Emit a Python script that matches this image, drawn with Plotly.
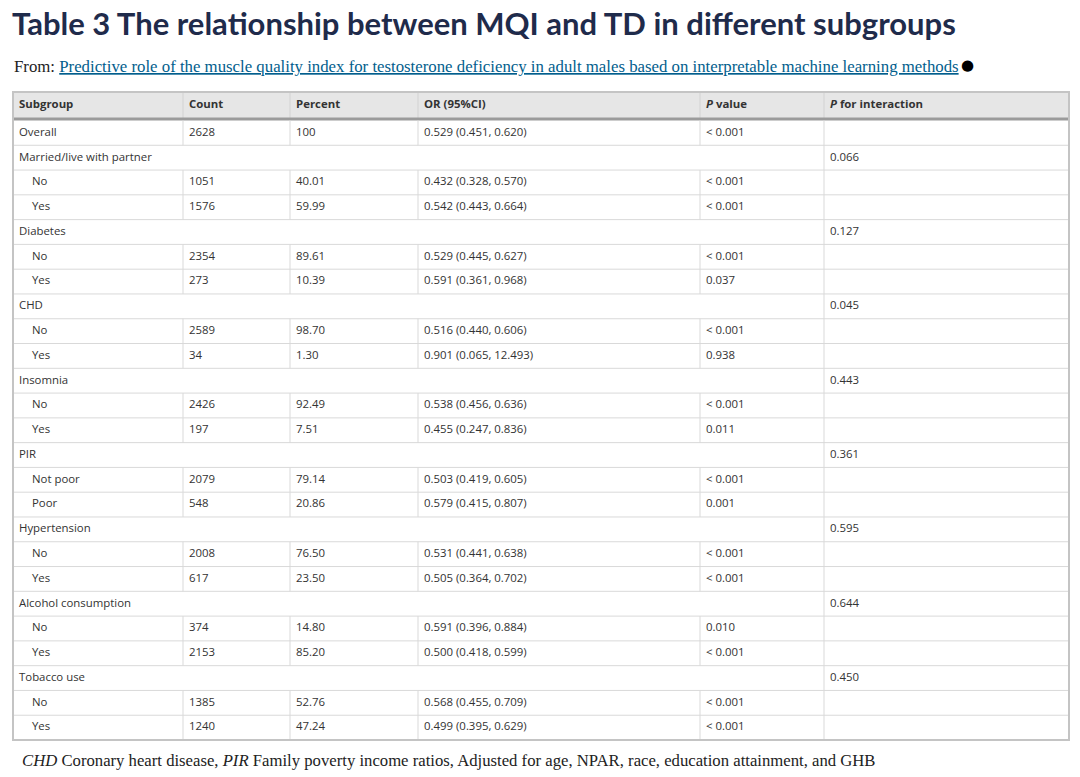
import plotly.graph_objects as go

title = "Table 3 The relationship between MQI and TD in different subgroups"
source = "Predictive role of the muscle quality index for testosterone deficiency in adult males based on interpretable machine learning methods"
footnote = ("<i>CHD</i> Coronary heart disease, <i>PIR</i> Family poverty income ratios, "
            "Adjusted for age, NPAR, race, education attainment, and GHB")

headers = ["Subgroup", "Count", "Percent", "OR (95%CI)", "<i>P</i> value", "<i>P</i> for interaction"]

subgroup = ["Overall", "Married/live with partner", "No", "Yes", "Diabetes", "No", "Yes",
            "CHD", "No", "Yes", "Insomnia", "No", "Yes", "PIR", "Not poor", "Poor",
            "Hypertension", "No", "Yes", "Alcohol consumption", "No", "Yes",
            "Tobacco use", "No", "Yes"]
indent = [0, 0, 1, 1, 0, 1, 1, 0, 1, 1, 0, 1, 1, 0, 1, 1, 0, 1, 1, 0, 1, 1, 0, 1, 1]
count = ["2628", "", "1051", "1576", "", "2354", "273", "", "2589", "34", "", "2426", "197",
         "", "2079", "548", "", "2008", "617", "", "374", "2153", "", "1385", "1240"]
percent = ["100", "", "40.01", "59.99", "", "89.61", "10.39", "", "98.70", "1.30", "", "92.49", "7.51",
           "", "79.14", "20.86", "", "76.50", "23.50", "", "14.80", "85.20", "", "52.76", "47.24"]
or_ci = ["0.529 (0.451, 0.620)", "", "0.432 (0.328, 0.570)", "0.542 (0.443, 0.664)", "",
         "0.529 (0.445, 0.627)", "0.591 (0.361, 0.968)", "", "0.516 (0.440, 0.606)",
         "0.901 (0.065, 12.493)", "", "0.538 (0.456, 0.636)", "0.455 (0.247, 0.836)", "",
         "0.503 (0.419, 0.605)", "0.579 (0.415, 0.807)", "", "0.531 (0.441, 0.638)",
         "0.505 (0.364, 0.702)", "", "0.591 (0.396, 0.884)", "0.500 (0.418, 0.599)", "",
         "0.568 (0.455, 0.709)", "0.499 (0.395, 0.629)"]
p_value = ["< 0.001", "", "< 0.001", "< 0.001", "", "< 0.001", "0.037", "", "< 0.001", "0.938",
           "", "< 0.001", "0.011", "", "< 0.001", "0.001", "", "< 0.001", "< 0.001", "",
           "0.010", "< 0.001", "", "< 0.001", "< 0.001"]
p_inter = ["", "0.066", "", "", "0.127", "", "", "0.045", "", "", "0.443", "", "", "0.361",
           "", "", "0.595", "", "", "0.644", "", "", "0.450", "", ""]

# axes are laid out in page pixels (body margin is removed in the page, see write_html below)
W, H = 1080, 777
col_edges = [13, 183, 290, 418, 700, 824, 1069]
pad = 6
head_top, head_bot = 92, 118
body_top, body_bot = 120.5, 740
n = len(subgroup)
row_h = (body_bot - body_top) / n
row_y = [body_top + (i + 0.5) * row_h for i in range(n)]
is_group = [c == "" for c in count]

text_color = "#333333"
grid = "#d9d9d9"
tfont = dict(family="Open Sans", size=11.4, color=text_color)

fig = go.Figure()

columns = [subgroup, count, percent, or_ci, p_value, p_inter]
for j, col in enumerate(columns):
    if j == 0:
        xs = [col_edges[0] + pad + (13 if ind else 0) for ind in indent]
    else:
        xs = [col_edges[j] + pad] * n
    fig.add_trace(go.Scatter(x=xs, y=row_y, text=col, mode="text",
                             textposition="middle right", textfont=tfont,
                             hoverinfo="skip", showlegend=False))

# header labels
fig.add_trace(go.Scatter(x=[e + pad for e in col_edges[:-1]],
                         y=[(head_top + head_bot) / 2] * len(headers),
                         text=["<b>%s</b>" % h for h in headers], mode="text",
                         textposition="middle right", textfont=tfont,
                         hoverinfo="skip", showlegend=False))

shapes = []
# header background and its thick bottom rule
shapes.append(dict(type="rect", x0=col_edges[0], x1=col_edges[-1], y0=head_top, y1=head_bot,
                   fillcolor="#e6e6e6", line_width=0, layer="below"))
for e in col_edges[1:-1]:
    shapes.append(dict(type="line", x0=e, x1=e, y0=head_top, y1=head_bot,
                       line=dict(color="#d2d2d2", width=1)))
shapes.append(dict(type="line", x0=col_edges[0], x1=col_edges[-1], y0=head_bot + 1, y1=head_bot + 1,
                   line=dict(color="#9b9b9b", width=3)))

# row rules
for i in range(1, n):
    y = body_top + i * row_h
    shapes.append(dict(type="line", x0=col_edges[0], x1=col_edges[-1], y0=y, y1=y,
                       line=dict(color=grid, width=1)))
# cell separators (group rows span the first five columns)
for i in range(n):
    y0, y1 = body_top + i * row_h, body_top + (i + 1) * row_h
    edges = [col_edges[5]] if is_group[i] else col_edges[1:-1]
    for e in edges:
        shapes.append(dict(type="line", x0=e, x1=e, y0=y0, y1=y1,
                           line=dict(color=grid, width=1)))

# outer border
shapes.append(dict(type="rect", x0=col_edges[0], x1=col_edges[-1], y0=head_top, y1=body_bot,
                   line=dict(color="#c4c4c4", width=2)))

annotations = [
    dict(text="<b>%s</b>" % title, x=11, y=23, xanchor="left", yanchor="middle",
         showarrow=False, borderpad=0, font=dict(family="Lato", size=31, color="#1f2b4b")),
    dict(text="From: <span style='color:#025e8d'><u>%s</u></span>" % source,
         x=12, y=66, xanchor="left", yanchor="middle", showarrow=False,
         font=dict(family="Liberation Serif", size=16.8, color="#222222")),
    dict(text="\u25cf", x=959, y=65, xanchor="left", yanchor="middle", showarrow=False,
         font=dict(family="DejaVu Sans", size=15, color="#000000")),
    dict(text=footnote, x=20, y=760, xanchor="left", yanchor="middle", showarrow=False,
         font=dict(family="Liberation Serif", size=16.7, color="#222222")),
]

fig.update_layout(
    width=W, height=H,
    margin=dict(l=0, r=0, t=0, b=0),
    paper_bgcolor="white", plot_bgcolor="white",
    xaxis=dict(range=[0, W], visible=False, fixedrange=True),
    yaxis=dict(range=[H, 0], visible=False, fixedrange=True),
    shapes=shapes,
    annotations=annotations,
)

fig.write_html("out.html", config={"displayModeBar": False},
               post_script="document.body.style.margin = '0';")
